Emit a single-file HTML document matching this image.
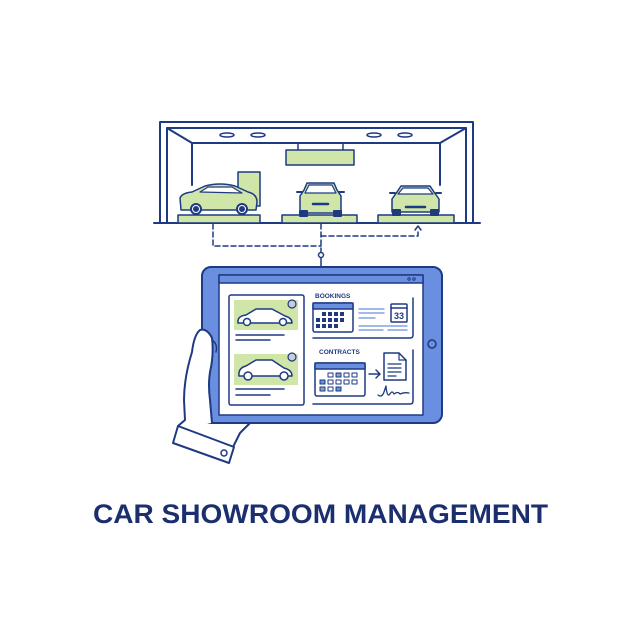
<!DOCTYPE html>
<html><head><meta charset="utf-8"><style>html,body{margin:0;padding:0;background:#fff}svg{display:block}</style></head>
<body>
<svg width="640" height="640" viewBox="0 0 640 640" xmlns="http://www.w3.org/2000/svg">
<g fill="none" stroke="#1e3a82" stroke-width="2" stroke-linejoin="round" stroke-linecap="round">
<!-- showroom -->
<path d="M160 223 V122 H473 V223"/>
<path d="M167 223 V128 H466 V223"/>
<path d="M167 128 L192 143 H440 L466 128"/>
<path d="M192 143 V185 M440 143 V185"/>
<path d="M154 223 H480"/>
<ellipse cx="227" cy="135" rx="7" ry="2" stroke-width="1.5"/>
<ellipse cx="258" cy="135" rx="7" ry="2" stroke-width="1.5"/>
<ellipse cx="374" cy="135" rx="7" ry="2" stroke-width="1.5"/>
<ellipse cx="405" cy="135" rx="7" ry="2" stroke-width="1.5"/>
<path d="M298 143 V150 M343 143 V150" stroke-width="1.5"/>
<rect x="286" y="150" width="68" height="15" fill="#cfe6a8" stroke-width="1.5"/>
<rect x="238" y="172" width="22" height="34" fill="#cfe6a8" stroke-width="1.5"/>
<rect x="178" y="215" width="82" height="8" fill="#cfe6a8" stroke-width="1.5"/>
<rect x="282" y="215" width="75" height="8" fill="#cfe6a8" stroke-width="1.5"/>
<rect x="378" y="215" width="76" height="8" fill="#cfe6a8" stroke-width="1.5"/>
<!-- side car -->
<path d="M181 210 L180 198 Q182 193 192 192 L205 186 Q220 182 235 186 L248 192 Q257 194 257 202 L256 210 Z" fill="#cfe6a8" stroke-width="1.5"/>
<path d="M200 192 L208 187 H232 L242 193 Z" fill="#fff" stroke-width="1.2"/>
<circle cx="196" cy="209" r="5" fill="#fff"/><circle cx="196" cy="209" r="2" fill="#1e3a82"/>
<circle cx="242" cy="209" r="5" fill="#fff"/><circle cx="242" cy="209" r="2" fill="#1e3a82"/>
<!-- front car -->
<path d="M300 213 V196 L304 190 L307 183 H334 L337 190 L341 196 V213 Z" fill="#cfe6a8" stroke-width="1.5"/>
<path d="M305 193 L309 185 H332 L336 193 Z" fill="#fff" stroke-width="1.2"/>
<rect x="300" y="211" width="7" height="5" fill="#1e3a82"/><rect x="334" y="211" width="7" height="5" fill="#1e3a82"/>
<path d="M313 204 H328" stroke-width="2.5"/>
<path d="M297 192 H302 M339 192 H344"/>
<!-- sports car -->
<path d="M392 212 V199 L397 192 L401 186 H430 L434 192 L439 199 V212 Z" fill="#cfe6a8" stroke-width="1.5"/>
<path d="M398 194 L403 188 H428 L433 194 Z" fill="#fff" stroke-width="1.2"/>
<rect x="393" y="210" width="7" height="5" fill="#1e3a82"/><rect x="431" y="210" width="7" height="5" fill="#1e3a82"/>
<path d="M406 207 H425" stroke-width="2.5"/>
<path d="M390 193 H395 M436 193 H441"/>
<!-- dashed connectors -->
<g stroke-dasharray="5 3" stroke-width="1.5">
<path d="M213 224 V246 H321"/>
<path d="M321 224 V252"/>
<path d="M321 236 H418 V229"/>
</g>
<path d="M415 230 L418 226 L421 230" stroke-width="1.5"/>
<circle cx="321" cy="255" r="2.5" fill="#fff" stroke-width="1.5"/>
<path d="M321 258 V267" stroke-width="1.5"/>
<!-- tablet -->
<rect x="202" y="267" width="240" height="156" rx="9" fill="#6a8fe0"/>
<rect x="219" y="275" width="204" height="140" fill="#fff" stroke-width="1.5"/>
<rect x="219" y="275" width="204" height="8" fill="#6a8fe0" stroke-width="1.5"/>
<circle cx="409" cy="279" r="1.2" stroke-width="1"/><circle cx="414" cy="279" r="1.2" stroke-width="1"/>
<circle cx="432" cy="344" r="4" fill="#6a8fe0" stroke-width="1.5"/>
<!-- left card -->
<rect x="229" y="295" width="75" height="110" rx="2" stroke-width="1.5"/>
<rect x="234" y="300" width="64" height="30" fill="#cfe6a8" stroke="none"/>
<rect x="234" y="354" width="64" height="31" fill="#cfe6a8" stroke="none"/>
<circle cx="292" cy="304" r="4" fill="#c8cdd8" stroke-width="1.2"/>
<circle cx="292" cy="357" r="4" fill="#c8cdd8" stroke-width="1.2"/>
<path d="M238 323 Q237 316 246 315 L256 309 H272 L285 316 Q292 318 292 323 Z" fill="#fff" stroke-width="1.5"/>
<circle cx="247" cy="322" r="3.5" fill="#fff" stroke-width="1.5"/><circle cx="283" cy="322" r="3.5" fill="#fff" stroke-width="1.5"/>
<path d="M239 376 Q238 368 246 366 L256 360 H272 L284 368 Q292 370 292 376 Z" fill="#fff" stroke-width="1.5"/>
<circle cx="248" cy="376" r="4" fill="#fff" stroke-width="1.5"/><circle cx="284" cy="376" r="4" fill="#fff" stroke-width="1.5"/>
<path d="M236 335 H284 M236 340 H270 M236 389 H284 M236 395 H270" stroke-width="1.5"/>
<!-- bookings -->
<path d="M413 298 V335 Q413 338 410 338 H313" stroke-width="1.5"/>
<rect x="313" y="303" width="40" height="29" rx="2" fill="#fff" stroke-width="1.5"/>
<rect x="313" y="303" width="40" height="6" fill="#6a8fe0" stroke-width="1.5"/>
<g fill="#1e3a82" stroke="none">
<rect x="322" y="312" width="4" height="4"/><rect x="328" y="312" width="4" height="4"/><rect x="334" y="312" width="4" height="4"/><rect x="340" y="312" width="4" height="4"/>
<rect x="316" y="318" width="4" height="4"/><rect x="322" y="318" width="4" height="4"/><rect x="328" y="318" width="4" height="4"/><rect x="334" y="318" width="4" height="4"/><rect x="340" y="318" width="4" height="4"/>
<rect x="316" y="324" width="4" height="4"/><rect x="322" y="324" width="4" height="4"/><rect x="328" y="324" width="4" height="4"/><rect x="334" y="324" width="4" height="4"/>
</g>
<path d="M359 309 H384 M359 313 H384 M359 318 H375 M359 326 H407 M359 330 H383 M388 330 H407" stroke="#6a8fe0" stroke-width="1.3"/>
<rect x="391" y="304" width="16" height="18" rx="1" fill="#fff" stroke-width="1.5"/>
<path d="M391 308 H407" stroke-width="1.5"/>
<!-- contracts -->
<path d="M413 350 V401 Q413 404 410 404 H313" stroke-width="1.5"/>
<rect x="315" y="363" width="50" height="33" rx="2" fill="#fff" stroke-width="1.5"/>
<rect x="315" y="363" width="50" height="6" fill="#6a8fe0" stroke-width="1.5"/>
<g stroke-width="1">
<rect x="328" y="373" width="5" height="4"/><rect x="336" y="373" width="5" height="4" fill="#8fa3c8"/><rect x="344" y="373" width="5" height="4"/><rect x="352" y="373" width="5" height="4"/>
<rect x="320" y="380" width="5" height="4" fill="#6a8fe0"/><rect x="328" y="380" width="5" height="4"/><rect x="336" y="380" width="5" height="4"/><rect x="344" y="380" width="5" height="4"/><rect x="352" y="380" width="5" height="4"/>
<rect x="320" y="387" width="5" height="4" fill="#8fa3c8"/><rect x="328" y="387" width="5" height="4"/><rect x="336" y="387" width="5" height="4" fill="#6a8fe0"/>
</g>
<path d="M369 374 H380 M376 370 L380 374 L376 378" stroke-width="1.5"/>
<path d="M384 353 H399 L406 360 V380 H384 Z" fill="#fff" stroke-width="1.5"/>
<path d="M399 353 V360 H406 M388 364 H401 M388 368 H401 M388 372 H401 M388 376 H396" stroke-width="1.2"/>
<path d="M378 395 Q382 398 384 392 L386 386 Q387 398 390 394 Q392 390 394 394 Q398 391 400 394 Q404 392 409 393" stroke-width="1.3"/>
<!-- hand -->
<path d="M250 423 L240 433 L233 447 M212 423 L210 400 Q208 385 210 372 Q214 355 212 338 Q207 328 200 330 Q194 335 192 352 Q184 378 184 400 L185 420 L178 426" fill="#fff" stroke-width="2"/>
<path d="M212 340 Q218 344 216 352" fill="none" stroke-width="1.5"/>
<path d="M178 426 L234 447 L229 463 L173 443 Z" fill="#fff" stroke-width="2"/>
<circle cx="224" cy="453" r="3" stroke-width="1.5"/>
</g>
<g font-family="Liberation Sans, sans-serif" font-weight="bold" fill="#1e3a82">
<text x="315" y="298" font-size="6.5">BOOKINGS</text>
<text x="319" y="354" font-size="6.5">CONTRACTS</text>
<text x="399" y="319" font-size="9" text-anchor="middle">33</text>
<text x="93" y="523" font-size="27" textLength="455" lengthAdjust="spacingAndGlyphs" fill="#1b2f6e">CAR SHOWROOM MANAGEMENT</text>
</g>
</svg>
</body></html>
